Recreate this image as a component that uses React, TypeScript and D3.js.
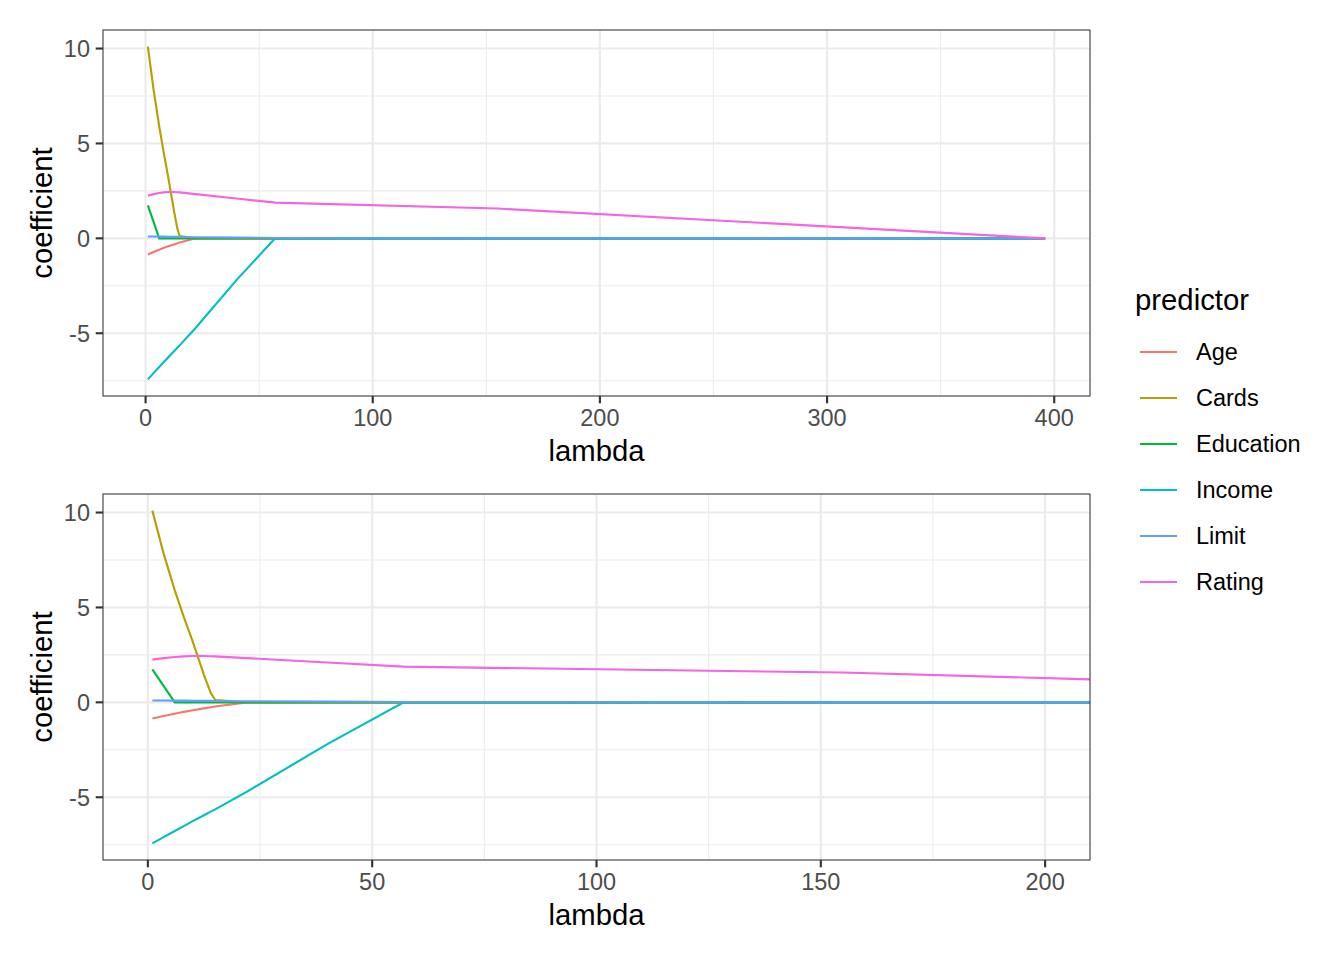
import { useEffect, useRef } from 'react';
import * as d3 from 'd3';

// lasso path knots (lambda) and coefficient of each predictor at those knots
const lambda = [1, 3.5, 6, 8, 10, 12.5, 14, 15, 22, 40, 57, 155, 396];

const age = [-0.85, -0.72, -0.6, -0.5, -0.42, -0.32, -0.26, -0.22, 0, 0, 0, 0, 0];
const cards = [10.1, 7.85, 5.9, 4.5, 3.2, 1.45, 0.5, 0.12, 0, 0, 0, 0, 0];
const education = [1.74, 0.87, 0, 0, 0, 0, 0, 0, 0, 0, 0, 0, 0];
const income = [-7.43, -7.1, -6.78, -6.52, -6.26, -5.95, -5.76, -5.64, -4.72, -2.2, 0, 0, 0];
const limit = [0.1, 0.1, 0.09, 0.09, 0.08, 0.08, 0.08, 0.07, 0.06, 0.04, 0.02, 0, 0];
const rating = [2.25, 2.33, 2.39, 2.42, 2.44, 2.44, 2.43, 2.42, 2.33, 2.1, 1.88, 1.57, 0];

const predictors = ['Age', 'Cards', 'Education', 'Income', 'Limit', 'Rating'];
const values = [age, cards, education, income, limit, rating];
const colors = ['#F8766D', '#B79F00', '#00BA38', '#00BFC4', '#619CFF', '#F564E3'];

const yTicks = [-5, 0, 5, 10];
const topXTicks = [0, 100, 200, 300, 400];
const bottomXTicks = [0, 50, 100, 150, 200];
const bottomXLimit: [number, number] = [0, 200];

const FONT = 'Helvetica, Arial, "Liberation Sans", sans-serif';
const TICK_SIZE = 23.5;
const TITLE_SIZE = 29.3;
const TICK_LEN = 7.3;

export default function App() {
  const svgRef = useRef<SVGSVGElement>(null);

  useEffect(() => {
    if (!svgRef.current) return;
    const svg = d3.select(svgRef.current);
    svg.selectAll('*').remove();

    const series = predictors.map((name, i) => ({
      name,
      color: colors[i],
      points: lambda.map((l, j) => ({ x: l, y: values[i][j] })),
    }));

    const allY = values.flat();
    const [yMin, yMax] = d3.extent(allY) as [number, number];
    const yPad = (yMax - yMin) * 0.05;
    const [xMin, xMax] = d3.extent(lambda) as [number, number];
    const xPad = (xMax - xMin) * 0.05;
    const bPad = (bottomXLimit[1] - bottomXLimit[0]) * 0.05;

    const left = 103;
    const right = 1090;

    const panels = [
      { top: 30, bottom: 396, xDomain: [xMin - xPad, xMax + xPad], ticks: topXTicks },
      { top: 494, bottom: 860, xDomain: [bottomXLimit[0] - bPad, bottomXLimit[1] + bPad], ticks: bottomXTicks },
    ];

    panels.forEach((p, pi) => {
      const x = d3.scaleLinear().domain(p.xDomain).range([left, right]);
      const y = d3.scaleLinear().domain([yMin - yPad, yMax + yPad]).range([p.bottom, p.top]);
      const g = svg.append('g');

      const clipId = `clip-${pi}`;
      g.append('clipPath')
        .attr('id', clipId)
        .append('rect')
        .attr('x', left)
        .attr('y', p.top)
        .attr('width', right - left)
        .attr('height', p.bottom - p.top);

      g.append('rect')
        .attr('x', left)
        .attr('y', p.top)
        .attr('width', right - left)
        .attr('height', p.bottom - p.top)
        .attr('fill', '#fff');

      // minor grid
      const step = p.ticks[1] - p.ticks[0];
      const xMinor = p.ticks.map((t) => t + step / 2).concat([p.ticks[0] - step / 2]);
      const yMinor = yTicks.map((t) => t + 2.5).concat([yTicks[0] - 2.5]);
      const grid = g.append('g').attr('clip-path', `url(#${clipId})`);
      xMinor.forEach((t) => {
        grid.append('line')
          .attr('x1', x(t)).attr('x2', x(t))
          .attr('y1', p.top).attr('y2', p.bottom)
          .attr('stroke', '#EBEBEB').attr('stroke-width', 1.07);
      });
      yMinor.forEach((t) => {
        grid.append('line')
          .attr('x1', left).attr('x2', right)
          .attr('y1', y(t)).attr('y2', y(t))
          .attr('stroke', '#EBEBEB').attr('stroke-width', 1.07);
      });
      // major grid
      p.ticks.forEach((t) => {
        grid.append('line')
          .attr('x1', x(t)).attr('x2', x(t))
          .attr('y1', p.top).attr('y2', p.bottom)
          .attr('stroke', '#EBEBEB').attr('stroke-width', 2.13);
      });
      yTicks.forEach((t) => {
        grid.append('line')
          .attr('x1', left).attr('x2', right)
          .attr('y1', y(t)).attr('y2', y(t))
          .attr('stroke', '#EBEBEB').attr('stroke-width', 2.13);
      });

      // lines
      const line = d3.line<{ x: number; y: number }>().x((d) => x(d.x)).y((d) => y(d.y));
      const lines = g.append('g').attr('clip-path', `url(#${clipId})`);
      series.forEach((s) => {
        lines.append('path')
          .attr('d', line(s.points))
          .attr('fill', 'none')
          .attr('stroke', s.color)
          .attr('stroke-width', 2.13);
      });

      // border
      g.append('rect')
        .attr('x', left)
        .attr('y', p.top)
        .attr('width', right - left)
        .attr('height', p.bottom - p.top)
        .attr('fill', 'none')
        .attr('stroke', '#333333')
        .attr('stroke-width', 1.07);

      // x axis
      p.ticks.forEach((t) => {
        g.append('line')
          .attr('x1', x(t)).attr('x2', x(t))
          .attr('y1', p.bottom).attr('y2', p.bottom + TICK_LEN)
          .attr('stroke', '#333333').attr('stroke-width', 2.13);
        g.append('text')
          .attr('x', x(t))
          .attr('y', p.bottom + 30)
          .attr('text-anchor', 'middle')
          .attr('font-family', FONT)
          .attr('font-size', TICK_SIZE)
          .attr('fill', '#4D4D4D')
          .text(t);
      });
      // y axis
      yTicks.forEach((t) => {
        g.append('line')
          .attr('x1', left - TICK_LEN).attr('x2', left)
          .attr('y1', y(t)).attr('y2', y(t))
          .attr('stroke', '#333333').attr('stroke-width', 2.13);
        g.append('text')
          .attr('x', left - 13)
          .attr('y', y(t))
          .attr('dy', '0.36em')
          .attr('text-anchor', 'end')
          .attr('font-family', FONT)
          .attr('font-size', TICK_SIZE)
          .attr('fill', '#4D4D4D')
          .text(t);
      });

      g.append('text')
        .attr('x', (left + right) / 2)
        .attr('y', p.bottom + 65)
        .attr('text-anchor', 'middle')
        .attr('font-family', FONT)
        .attr('font-size', TITLE_SIZE)
        .attr('fill', '#000')
        .text('lambda');

      g.append('text')
        .attr('transform', `translate(52,${(p.top + p.bottom) / 2}) rotate(-90)`)
        .attr('text-anchor', 'middle')
        .attr('font-family', FONT)
        .attr('font-size', TITLE_SIZE)
        .attr('fill', '#000')
        .text('coefficient');
    });

    // legend
    const legend = svg.append('g');
    legend.append('text')
      .attr('x', 1135)
      .attr('y', 310)
      .attr('font-family', FONT)
      .attr('font-size', TITLE_SIZE)
      .attr('fill', '#000')
      .text('predictor');

    const keyY = d3.scalePoint().domain(predictors).range([352, 582]);
    series.forEach((s) => {
      const ky = keyY(s.name)!;
      legend.append('line')
        .attr('x1', 1140).attr('x2', 1177)
        .attr('y1', ky).attr('y2', ky)
        .attr('stroke', s.color)
        .attr('stroke-width', 2.13);
      legend.append('text')
        .attr('x', 1196)
        .attr('y', ky)
        .attr('dy', '0.36em')
        .attr('font-family', FONT)
        .attr('font-size', TICK_SIZE)
        .attr('fill', '#000')
        .text(s.name);
    });
  }, []);

  return (
    <svg
      ref={svgRef}
      width={1344}
      height={960}
      style={{ position: 'absolute', left: 0, top: 0, background: '#fff' }}
    />
  );
}
